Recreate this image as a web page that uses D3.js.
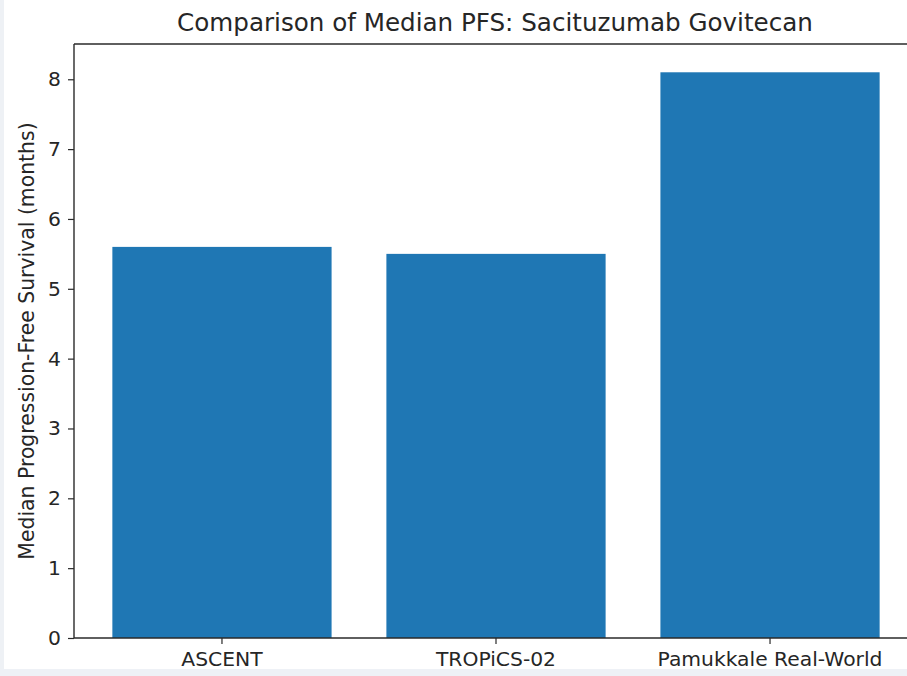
<!DOCTYPE html>
<html>
<head>
<meta charset="utf-8">
<script src="https://cdn.jsdelivr.net/npm/d3@7/dist/d3.min.js"></script>
<style>
  html, body { margin: 0; padding: 0; background: #ffffff; }
  svg { display: block; }
  text { font-family: "DejaVu Sans", sans-serif; fill: #262626; }
</style>
</head>
<body>
<svg id="chart" width="907" height="676"></svg>
<script>
const categories = ["ASCENT", "TROPiCS-02", "Pamukkale Real-World"];
const values = [5.6, 5.5, 8.1];
const yTicks = [0, 1, 2, 3, 4, 5, 6, 7, 8];
const titleText = "Comparison of Median PFS: Sacituzumab Govitecan";
const yLabelText = "Median Progression-Free Survival (months)";

const W = 907, H = 676;
const plot = { left: 74, right: 918, top: 44, bottom: 638 };

const svg = d3.select("#chart");

// background strips (screenshot framing)
svg.append("rect").attr("x", 0).attr("y", 0).attr("width", W).attr("height", H).attr("fill", "#ffffff");
svg.append("rect").attr("x", 0).attr("y", 0).attr("width", 4).attr("height", H).attr("fill", "#eef1f5");
svg.append("rect").attr("x", 0).attr("y", 669).attr("width", W).attr("height", H - 669).attr("fill", "#eef1f6");

const x = d3.scaleBand()
  .domain(categories)
  .range([plot.left, plot.right])
  .paddingInner(0.2)
  .paddingOuter(0.14);

const yMax = d3.max(values) * 1.05;
const y = d3.scaleLinear().domain([0, yMax]).range([plot.bottom, plot.top]);

// bars
svg.append("g").selectAll("rect")
  .data(values)
  .join("rect")
  .attr("x", (d, i) => x(categories[i]))
  .attr("y", d => y(d))
  .attr("width", x.bandwidth())
  .attr("height", d => y(0) - y(d))
  .attr("fill", "#1f77b4");

// spines
const spine = svg.append("g").attr("stroke", "#2a2a2a").attr("stroke-width", 1.4).attr("fill", "none");
spine.append("line").attr("x1", plot.left).attr("x2", plot.left).attr("y1", plot.top).attr("y2", plot.bottom);
spine.append("line").attr("x1", plot.left).attr("x2", plot.right).attr("y1", plot.bottom).attr("y2", plot.bottom);
spine.append("line").attr("x1", plot.left).attr("x2", plot.right).attr("y1", plot.top).attr("y2", plot.top);
spine.append("line").attr("x1", plot.right).attr("x2", plot.right).attr("y1", plot.top).attr("y2", plot.bottom);

// y axis
const yAxis = d3.axisLeft(y).tickValues(yTicks).tickFormat(d3.format("d")).tickSize(6).tickPadding(7);
const gy = svg.append("g").attr("transform", `translate(${plot.left},0)`).call(yAxis);
gy.select(".domain").remove();
gy.selectAll(".tick line").attr("stroke", "#2a2a2a").attr("stroke-width", 1.2);
gy.selectAll(".tick text").attr("font-size", 20.3).attr("font-family", "DejaVu Sans").attr("fill", "#262626");

// x axis
const xAxis = d3.axisBottom(x).tickSize(6).tickPadding(8);
const gx = svg.append("g").attr("transform", `translate(0,${plot.bottom})`).call(xAxis);
gx.select(".domain").remove();
gx.selectAll(".tick line").attr("stroke", "#2a2a2a").attr("stroke-width", 1.2);
gx.selectAll(".tick text").attr("font-size", 20.3).attr("font-family", "DejaVu Sans").attr("fill", "#262626");

// title
svg.append("text")
  .attr("x", 495)
  .attr("y", 31)
  .attr("text-anchor", "middle")
  .attr("font-size", 24.6)
  .text(titleText);

// y label
svg.append("text")
  .attr("transform", `translate(34,${(plot.top + plot.bottom) / 2}) rotate(-90)`)
  .attr("text-anchor", "middle")
  .attr("font-size", 20.4)
  .text(yLabelText);
</script>
</body>
</html>
